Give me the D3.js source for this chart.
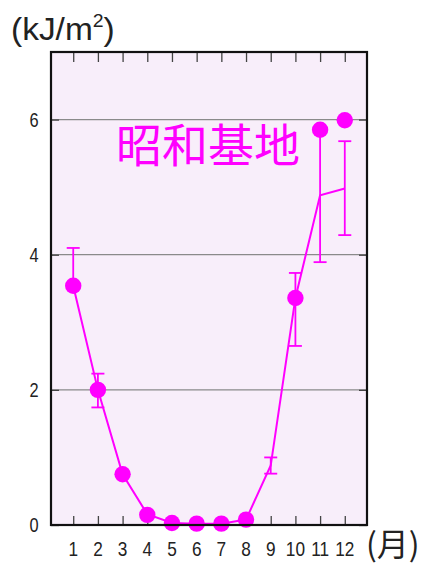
<!DOCTYPE html>
<html>
<head>
<meta charset="utf-8">
<script src="https://cdn.jsdelivr.net/npm/d3@7/dist/d3.min.js"></script>
<style>
  html, body { margin: 0; padding: 0; background: #ffffff; }
  svg { display: block; }
</style>
</head>
<body>
<svg id="chart" width="427" height="565"></svg>
<script>
// Monthly UV dose at Syowa Station (kJ/m²)
const months = [1, 2, 3, 4, 5, 6, 7, 8, 9, 10, 11, 12];
const monthLabels = ["1", "2", "3", "4", "5", "6", "7", "8", "9", "10", "11", "12"];
// long-term monthly mean (line) and its spread (error bars)
const meanValues = [3.54, 2.0, 0.75, 0.16, 0.03, 0.02, 0.02, 0.08, 0.88, 3.36, 4.88, 4.98];
const errLow =     [3.54, 1.74, 0.75, 0.16, 0.03, 0.02, 0.02, 0.08, 0.76, 2.65, 3.89, 4.29];
const errHigh =    [4.10, 2.24, 0.75, 0.16, 0.03, 0.02, 0.02, 0.08, 1.00, 3.73, 5.87, 5.68];
// single-year observations (dots); no value for September
const yearValues = [3.54, 2.0, 0.75, 0.15, 0.03, 0.02, 0.02, 0.08, null, 3.36, 5.85, 5.99];
const yTicks = [0, 2, 4, 6];

const magenta = "#ff00ff";
const svg = d3.select("#chart");
const plotLeft = 51, plotRight = 367, plotTop = 52, plotBottom = 525;

const x = d3.scaleLinear().domain([0.1, 12.9]).range([plotLeft, plotRight]);
const y = d3.scaleLinear().domain([0, 7]).range([plotBottom, plotTop]);

// plot background
svg.append("rect")
  .attr("x", plotLeft).attr("y", plotTop)
  .attr("width", plotRight - plotLeft).attr("height", plotBottom - plotTop)
  .attr("fill", "#f8eefa");

// horizontal gridlines
svg.append("g").selectAll("line")
  .data(yTicks.filter(d => d > 0))
  .join("line")
  .attr("x1", plotLeft).attr("x2", plotRight)
  .attr("y1", d => y(d)).attr("y2", d => y(d))
  .attr("stroke", "#8a8a8a").attr("stroke-width", 1.2);

// inward ticks on all four sides
const bottomAxis = d3.axisBottom(x).tickValues(months).tickSize(-9).tickFormat("");
const topAxis = d3.axisTop(x).tickValues(months).tickSize(-10).tickFormat("");
const leftAxis = d3.axisLeft(y).tickValues(yTicks).tickSize(-8).tickFormat("");
const rightAxis = d3.axisRight(y).tickValues(yTicks).tickSize(-8).tickFormat("");
[[bottomAxis, `translate(0,${plotBottom})`], [topAxis, `translate(0,${plotTop})`],
 [leftAxis, `translate(${plotLeft},0)`], [rightAxis, `translate(${plotRight},0)`]].forEach(([ax, tr]) => {
  const g = svg.append("g").attr("transform", tr).call(ax);
  g.select(".domain").remove();
  g.selectAll(".tick line").attr("stroke", "#444").attr("stroke-width", 1.3);
});

// tick labels (slightly condensed)
svg.append("g").selectAll("text")
  .data(months)
  .join("text")
  .attr("transform", d => `translate(${x(d)},556) scale(0.82,1)`)
  .attr("text-anchor", "middle")
  .attr("font-family", "'Liberation Sans', sans-serif")
  .attr("font-size", 21)
  .attr("fill", "#222")
  .text((d, i) => monthLabels[i]);

svg.append("g").selectAll("text")
  .data(yTicks)
  .join("text")
  .attr("transform", d => `translate(34,${y(d) + 7}) scale(0.82,1)`)
  .attr("text-anchor", "middle")
  .attr("font-family", "'Liberation Sans', sans-serif")
  .attr("font-size", 20)
  .attr("fill", "#222")
  .text(d => d);

// error bars
const eb = svg.append("g").attr("stroke", magenta).attr("stroke-width", 1.8).attr("fill", "none");
months.forEach((m, i) => {
  if (errHigh[i] - errLow[i] < 0.05) return;
  const cx = x(m);
  eb.append("line").attr("x1", cx).attr("x2", cx).attr("y1", y(errLow[i])).attr("y2", y(errHigh[i]));
  eb.append("line").attr("x1", cx - 6.5).attr("x2", cx + 6.5).attr("y1", y(errHigh[i])).attr("y2", y(errHigh[i]));
  if (errLow[i] < meanValues[i]) {
    eb.append("line").attr("x1", cx - 6.5).attr("x2", cx + 6.5).attr("y1", y(errLow[i])).attr("y2", y(errLow[i]));
  }
});

// mean line
svg.append("path")
  .datum(months.map((m, i) => [m, meanValues[i]]))
  .attr("fill", "none")
  .attr("stroke", magenta)
  .attr("stroke-width", 2)
  .attr("d", d3.line().x(d => x(d[0])).y(d => y(d[1])));

// yearly dots
svg.append("g").selectAll("circle")
  .data(months.map((m, i) => [m, yearValues[i]]).filter(d => d[1] !== null))
  .join("circle")
  .attr("cx", d => x(d[0]))
  .attr("cy", d => y(d[1]))
  .attr("r", 8.2)
  .attr("fill", magenta);

// frame
svg.append("rect")
  .attr("x", plotLeft).attr("y", plotTop)
  .attr("width", plotRight - plotLeft).attr("height", plotBottom - plotTop)
  .attr("fill", "none").attr("stroke", "#111").attr("stroke-width", 2.2);

// station name
svg.append("text")
  .attr("x", 116).attr("y", 162)
  .attr("font-family", "'Noto Sans CJK JP', sans-serif")
  .attr("font-size", 46)
  .attr("font-weight", 400)
  .attr("fill", magenta)
  .text("昭和基地");

// unit label
const unit = svg.append("text")
  .attr("transform", "translate(11,40) scale(1.08,1)")
  .attr("font-family", "'Liberation Sans', 'DejaVu Sans', sans-serif")
  .attr("font-size", 31)
  .attr("fill", "#222");
unit.append("tspan").text("(kJ/m");
unit.append("tspan").attr("font-size", 18).attr("dy", -13).text("2");
unit.append("tspan").attr("dy", 13).text(")");

// month axis label
svg.append("text")
  .attr("x", 366).attr("y", 556)
  .attr("font-family", "'Noto Sans CJK JP', sans-serif")
  .attr("font-size", 32)
  .attr("fill", "#222")
  .text("(月)");
</script>
</body>
</html>
